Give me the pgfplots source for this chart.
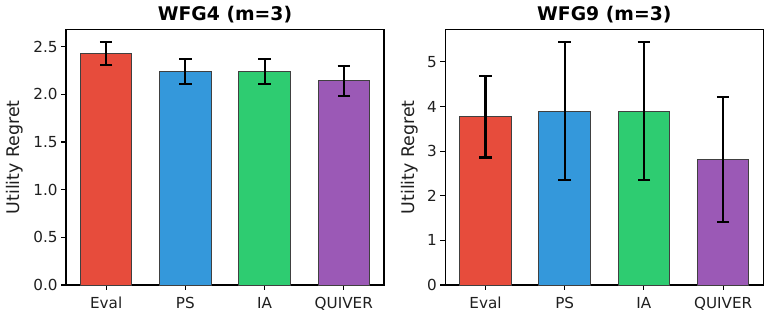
\documentclass[border=0pt]{standalone}
\usepackage{fontspec}
\setmainfont{DejaVu Sans}
\usepackage{pgfplots}
\pgfplotsset{compat=1.18}
\definecolor{cEval}{HTML}{E74C3C}
\definecolor{cPS}{HTML}{3498DB}
\definecolor{cIA}{HTML}{2ECC71}
\definecolor{cQ}{HTML}{9B59B6}
\pgfplotsset{
  myax/.style={
    scale only axis, width=318pt, height=255.3pt,
    anchor=south west, clip mode=individual,
    ybar, ymin=0,
    xmin=-0.5075, xmax=3.5075,
    xtick={0,1,2,3}, xticklabels={Eval,PS,IA,QUIVER},
    tick pos=left, tick align=outside,
    major tick length=4.9pt,
    axis line style={line width=1.1pt},
    every tick/.style={black, line width=1.1pt},
    /pgf/number format/assume math mode=true,
    tick label style={font=\fontsize{15.2}{18}\selectfont, color=black!88},
    xticklabel style={text height=11.6pt, text depth=0pt, yshift=-3.3pt},
    label style={font=\fontsize{17.4}{20}\selectfont, color=black!88},
    ylabel={Utility Regret},
    ylabel style={at={(axis description cs:0,0.5)}, anchor=base},
    every axis plot/.append style={bar width=0.65, bar shift=0pt, draw=black!75, line width=1pt,
      /pgfplots/error bars/y dir=both, /pgfplots/error bars/y explicit,
      /pgfplots/error bars/error bar style={line width=2.2pt, black},
      /pgfplots/error bars/error mark options={line width=2.2pt, black, mark size=6.3pt, rotate=90}},
  }
}
\tikzset{ttl/.style={font=\fontsize{18.8}{22}\selectfont\bfseries, anchor=base, inner sep=0pt}}
\begin{document}
\begin{tikzpicture}
\useasboundingbox (0,0) rectangle (771pt,316pt);
\begin{axis}[myax, at={(66pt,31pt)}, ymax=2.6775,
  ytick={0,0.5,1,1.5,2,2.5},
  yticklabel style={/pgf/number format/fixed, /pgf/number format/fixed zerofill, /pgf/number format/precision=1},
  ylabel style={yshift=46pt}]
\addplot[fill=cEval] coordinates {(0,2.43) +- (0,0.12)};
\addplot[fill=cPS] coordinates {(1,2.24) +- (0,0.13)};
\addplot[fill=cIA] coordinates {(2,2.24) +- (0,0.13)};
\addplot[fill=cQ] coordinates {(3,2.14) +- (0,0.155)};
\node[ttl] at (rel axis cs:0.5,1) [yshift=9pt] {WFG4 (m=3)};
\end{axis}
\begin{axis}[myax, at={(445.3pt,31pt)}, ymax=5.7225,
  ytick={0,1,2,3,4,5},
  ylabel style={yshift=31.3pt}]
\addplot[fill=cEval] coordinates {(0,3.77) +- (0,0.91)};
\addplot[fill=cPS] coordinates {(1,3.90) +- (0,1.55)};
\addplot[fill=cIA] coordinates {(2,3.90) +- (0,1.55)};
\addplot[fill=cQ] coordinates {(3,2.82) +- (0,1.40)};
\node[ttl] at (rel axis cs:0.5,1) [yshift=9pt] {WFG9 (m=3)};
\end{axis}
\end{tikzpicture}
\end{document}
